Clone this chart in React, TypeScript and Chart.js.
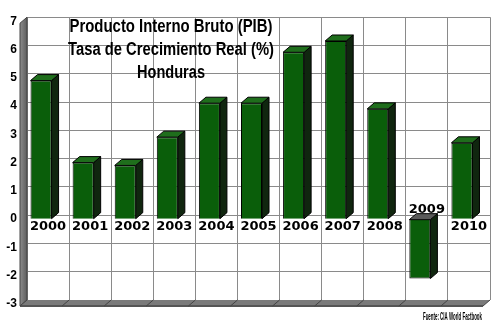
import React, { useEffect, useRef } from "react";
import { Chart, registerables } from "chart.js";

Chart.register(...registerables);

const years = ["2000", "2001", "2002", "2003", "2004", "2005", "2006", "2007", "2008", "2009", "2010"];
const growth = [4.9, 2.0, 1.9, 2.9, 4.1, 4.1, 5.9, 6.3, 3.9, -2.1, 2.7];
const yMin = -3;
const yMax = 7;
const titleLines = ["Producto Interno Bruto (PIB)", "Tasa de Crecimiento Real (%)", "Honduras"];
const sourceText = "Fuente: CIA World Factbook";

const DX = 7;
const DY = -6;
const SHIFT_X = -7;
const SHIFT_Y = 4;

function fitText(ctx: CanvasRenderingContext2D, text: string, x: number, y: number, width: number, align: "center" | "right") {
  const w = ctx.measureText(text).width;
  const s = Math.min(1.2, width / w);
  ctx.save();
  ctx.translate(x, y);
  ctx.scale(s, 1);
  ctx.textAlign = align;
  ctx.fillText(text, 0, 0);
  ctx.restore();
}

const threeD = {
  id: "threeD",
  beforeDatasetsDraw(chart: any) {
    const ctx: CanvasRenderingContext2D = chart.ctx;
    const a = chart.chartArea;
    const g = ctx.createLinearGradient(a.left - 7, 0, a.left, 0);
    g.addColorStop(0, "#8c8c8c");
    g.addColorStop(1, "#5e5e5e");
    ctx.save();
    ctx.fillStyle = g;
    ctx.beginPath();
    ctx.moveTo(a.left - 7, a.top + 6);
    ctx.lineTo(a.left, a.top);
    ctx.lineTo(a.left, a.bottom);
    ctx.lineTo(a.left - 7, a.bottom + 6);
    ctx.closePath();
    ctx.fill();
    ctx.strokeStyle = "#444";
    ctx.lineWidth = 1;
    ctx.stroke();
    ctx.fillStyle = "#7a7a7a";
    ctx.beginPath();
    ctx.moveTo(a.left, a.bottom);
    ctx.lineTo(a.right, a.bottom);
    ctx.lineTo(a.right - 7, a.bottom + 6);
    ctx.lineTo(a.left - 7, a.bottom + 6);
    ctx.closePath();
    ctx.fill();
    ctx.fillStyle = "#555";
    ctx.fillRect(a.left - 7, a.bottom + 5, a.right - a.left, 2);
    const xs = chart.scales.x;
    ctx.strokeStyle = "#444";
    for (let i = 0; i <= years.length; i++) {
      const px = xs.getPixelForValue(i - 0.5);
      ctx.beginPath();
      ctx.moveTo(px, a.bottom);
      ctx.lineTo(px - 7, a.bottom + 6);
      ctx.stroke();
    }
    ctx.restore();
    ctx.save();
    ctx.translate(SHIFT_X, SHIFT_Y);
  },
  afterDatasetsDraw(chart: any) {
    const ctx: CanvasRenderingContext2D = chart.ctx;
    const meta = chart.getDatasetMeta(0);
    meta.data.forEach((bar: any, i: number) => {
      const { x, y, base, width } = bar.getProps(["x", "y", "base", "width"], true);
      const l = x - width / 2;
      const r = x + width / 2;
      const top = Math.min(y, base);
      const bot = Math.max(y, base);
      ctx.lineWidth = 1;
      ctx.strokeStyle = "#000";
      ctx.fillStyle = "#10260f";
      ctx.beginPath();
      ctx.moveTo(r, top);
      ctx.lineTo(r + DX, top + DY);
      ctx.lineTo(r + DX, bot + DY);
      ctx.lineTo(r, bot);
      ctx.closePath();
      ctx.fill();
      ctx.stroke();
      ctx.fillStyle = growth[i] < 0 ? "#5a5a5a" : "#1f6e1c";
      ctx.beginPath();
      ctx.moveTo(l, top);
      ctx.lineTo(l + DX, top + DY);
      ctx.lineTo(r + DX, top + DY);
      ctx.lineTo(r, top);
      ctx.closePath();
      ctx.fill();
      ctx.stroke();
    });
    ctx.restore();
  },
  afterDraw(chart: any) {
    const ctx: CanvasRenderingContext2D = chart.ctx;
    const xs = chart.scales.x;
    const ys = chart.scales.y;
    const zeroY = ys.getPixelForValue(0);
    ctx.save();
    ctx.fillStyle = "#000";
    ctx.font = "bold 13px 'DejaVu Sans'";
    ctx.textBaseline = "middle";
    ctx.textAlign = "center";
    years.forEach((yr, i) => {
      const px = xs.getPixelForValue(i);
      const py = growth[i] >= 0 ? zeroY + 11 : zeroY - 6;
      ctx.fillText(yr, px, py);
    });
    ctx.textBaseline = "alphabetic";
    ctx.font = "bold 18px 'Liberation Sans', Arial, sans-serif";
    const baselines = [32, 55, 78];
    const widths = [203, 206, 68];
    titleLines.forEach((t, i) => {
      fitText(ctx, t, 171, baselines[i], widths[i], "center");
    });
    ctx.font = "bold 10px 'Liberation Sans', Arial, sans-serif";
    fitText(ctx, sourceText, 482, 320, 59, "right");
    ctx.restore();
  },
};

export default function App() {
  const ref = useRef<HTMLCanvasElement | null>(null);
  useEffect(() => {
    document.body.style.margin = "0";
    const canvas = ref.current;
    if (!canvas) return;
    const chart = new Chart(canvas, {
      type: "bar",
      data: {
        labels: years,
        datasets: [
          {
            data: growth,
            backgroundColor: "#0a5e0a",
            borderColor: "#000",
            borderWidth: 1,
            barPercentage: 0.5,
            categoryPercentage: 1,
          },
        ],
      },
      options: {
        animation: false,
        responsive: false,
        maintainAspectRatio: false,
        layout: { padding: { top: 14, right: 10, bottom: 27, left: 0 } },
        plugins: {
          legend: { display: false },
          tooltip: { enabled: false },
          title: { display: false },
        },
        scales: {
          x: {
            grid: { offset: true, color: "#8a8a8a", lineWidth: 1, drawTicks: false },
            border: { display: false },
            ticks: { display: false },
            afterFit: (s: any) => {
              s.height = 0;
            },
          },
          y: {
            min: yMin,
            max: yMax,
            grid: { color: "#8a8a8a", lineWidth: 1, drawTicks: false },
            border: { display: false },
            ticks: {
              stepSize: 1,
              padding: 10,
              labelOffset: 4,
              color: "#000",
              font: { family: "'Liberation Sans', Arial, sans-serif", size: 12, weight: "bold" },
            },
            afterFit: (s: any) => {
              s.width = 27;
            },
          },
        },
      },
      plugins: [threeD],
    } as any);
    return () => chart.destroy();
  }, []);
  return (
    <div style={{ width: 500, height: 327, background: "#fff" }}>
      <canvas ref={ref} width={500} height={327} />
    </div>
  );
}
